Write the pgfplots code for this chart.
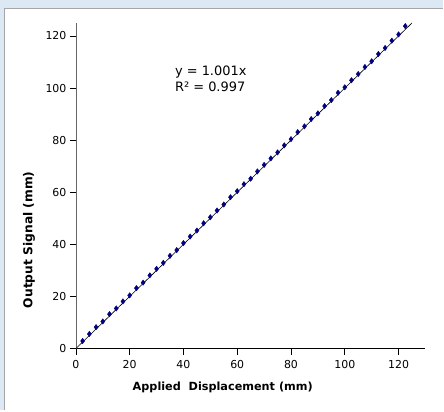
\documentclass[border=0pt]{standalone}
\usepackage{pgfplots}
\pgfplotsset{compat=1.18}
\usepackage{fontspec}
\setmainfont{DejaVu Sans}

\definecolor{framebg}{HTML}{DCE9F5}
\definecolor{framegray}{HTML}{A6A6A6}
\definecolor{marknavy}{HTML}{000080}

\pgfplotstableread{
x y
2.5 2.9
5.0 5.6
7.5 8.2
10.0 10.4
12.5 13.2
15.0 15.4
17.5 18.1
20.0 20.4
22.5 23.2
25.0 25.3
27.5 28.1
30.0 30.6
32.5 32.9
35.0 35.6
37.5 37.8
40.0 40.5
42.5 43.0
45.0 45.3
47.5 48.1
50.0 50.4
52.5 53.0
55.0 55.3
57.5 58.1
60.0 60.4
62.5 63.1
65.0 65.2
67.5 68.0
70.0 70.5
72.5 73.0
75.0 75.3
77.5 78.0
80.0 80.4
82.5 83.1
85.0 85.3
87.5 88.1
90.0 90.3
92.5 93.1
95.0 95.4
97.5 98.2
100.0 100.3
102.5 103.0
105.0 105.4
107.5 108.1
110.0 110.3
112.5 113.1
115.0 115.4
117.5 118.2
120.0 120.6
122.5 123.8
}\meas

\begin{document}
\begin{tikzpicture}[x=1bp,y=1bp]
  % frame round the chart
  \fill[framebg] (0,0) rectangle (444,411);
  \fill[white] (5,0) rectangle (444,402);
  \draw[framegray, line width=1.2bp] (4.5,0) -- (4.5,402.5) -- (444,402.5);
  \useasboundingbox (0,0) rectangle (444,411);
  \begin{axis}[
      at={(76bp,62bp)}, anchor=south west,
      scale only axis, width=350bp, height=326bp,
      xmin=0, xmax=130, ymin=0, ymax=125,
      axis x line*=bottom, axis y line*=left,
      x axis line style={black, -},
      y axis line style={black!60, -},
      xtick={0,20,...,120}, ytick={0,20,...,120},
      tick align=outside, major tick length=6bp,
      tick style={black, line width=0.6bp},
      ticklabel style={font=\fontsize{11}{13}\selectfont},
      xticklabel style={yshift=-2.5bp},
      /pgf/number format/assume math mode=true,
      xlabel={\bfseries Applied\ \ Displacement (mm)},
      ylabel={\bfseries Output Signal (mm)},
      xlabel style={at={(axis description cs:0.42,0)}, anchor=center,
        yshift=-39bp, font=\fontsize{11.3}{13}\selectfont},
      ylabel style={at={(axis description cs:-0.134,0.334)}, anchor=center,
        font=\fontsize{12.3}{14}\selectfont},
      clip=false,
    ]
    \addplot[black, line width=0.6bp] coordinates {(0,0) (125,125)};
    \addplot[only marks, mark=diamond*, mark size=2.7bp,
      mark options={fill=marknavy, draw=marknavy}] table {\meas};
    \node[align=left, anchor=north west, inner sep=0pt,
      font=\fontsize{13}{16}\selectfont]
      at (axis cs:36.8,108.7) {y = 1.001x\\R² = 0.997};
  \end{axis}
\end{tikzpicture}
\end{document}
